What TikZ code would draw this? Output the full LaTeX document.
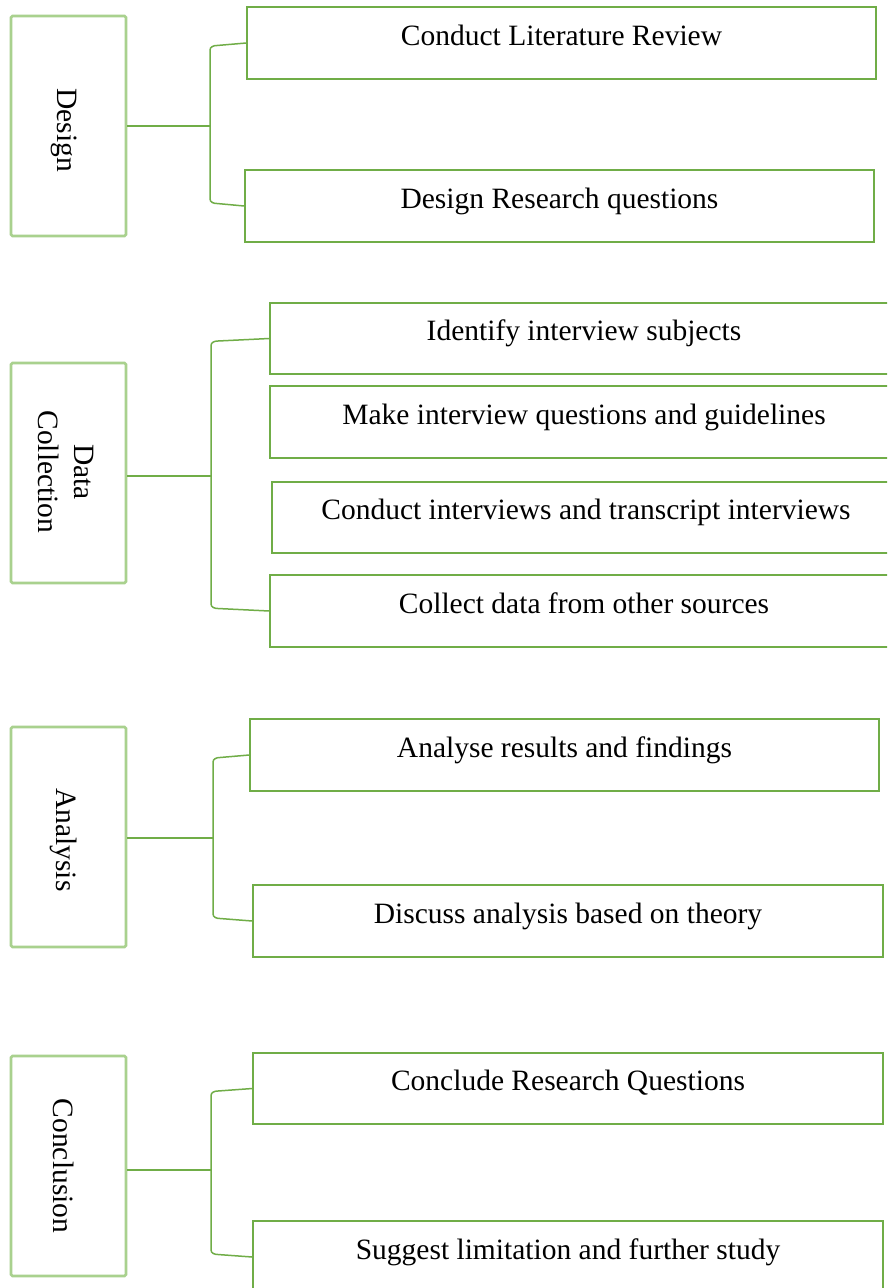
\documentclass[tikz,border=0pt]{standalone}
\usepackage{fontspec}
\setmainfont{Liberation Serif}
\usetikzlibrary{calc}
\definecolor{phaseline}{HTML}{A9D18E}
\definecolor{taskline}{HTML}{70AD47}
\tikzset{
  phase/.style={draw=phaseline, line width=2.6pt, rounded corners=1.5pt,
    minimum width=115pt, minimum height=220pt, inner sep=0pt},
  phasetext/.style={rotate=-90, align=center, font=\fontsize{29.5}{36}\selectfont},
  task/.style={draw=taskline, line width=1.6pt, minimum height=72pt, inner sep=0pt,
    font=\fontsize{29.5}{36}\selectfont, text height=20pt, text depth=16pt},
  conn/.style={draw=taskline, line width=1.5pt}
}
\begin{document}
\begin{tikzpicture}[x=1pt,y=-1pt]
\useasboundingbox (0,0) rectangle (887,1288);
\clip (0,0) rectangle (887,1288);
\fill[white] (0,0) rectangle (887,1288);

% ---- Design ----
\node[phase] (design) at (68.5,126) {};
\node[phasetext] (designt) at (64,130) {Design};
\node[task, minimum width=629pt] (lit) at (561.5,43) {Conduct Literature Review};
\node[task, minimum width=629pt] (rq) at (559.5,206) {Design Research questions};
\coordinate (b1) at (210,126);
\draw[conn] (design.east) -- (b1);
\draw[conn] (lit.west) -- ($(b1 |- lit.west)+(7,2.5)$) to[out=180,in=90] ($(b1 |- lit.west)+(0,7)$)
  -- ($(b1 |- rq.west)+(0,-7)$) to[out=-90,in=180] ($(b1 |- rq.west)+(7,-2.5)$) -- (rq.west);

% ---- Data Collection ----
\node[phase] (data) at (68.5,473) {};
\node[phasetext] (datat) at (66,472) {Data\\Collection};
\node[task, minimum width=628pt, minimum height=71pt] (subj) at (584,338.5) {Identify interview subjects};
\node[task, minimum width=628pt] (make) at (584,422) {Make interview questions and guidelines};
\node[task, minimum width=628pt, minimum height=71pt] (intv) at (586,517.5) {Conduct interviews and transcript interviews};
\node[task, minimum width=628pt] (coll) at (584,611) {Collect data from other sources};
\coordinate (b2) at (211,476);
\draw[conn] (data.east |- b2) -- (b2);
\draw[conn] (subj.west) -- ($(b2 |- subj.west)+(7,2.5)$) to[out=180,in=90] ($(b2 |- subj.west)+(0,7)$)
  -- ($(b2 |- coll.west)+(0,-7)$) to[out=-90,in=180] ($(b2 |- coll.west)+(7,-2.5)$) -- (coll.west);

% ---- Analysis ----
\node[phase] (anal) at (68.5,837) {};
\node[phasetext] (analt) at (64,840) {Analysis};
\node[task, minimum width=629pt] (res) at (564.5,755) {Analyse results and findings};
\node[task, minimum width=630pt] (disc) at (568,921) {Discuss analysis based on theory};
\coordinate (b3) at (213,838);
\draw[conn] (anal.east |- b3) -- (b3);
\draw[conn] (res.west) -- ($(b3 |- res.west)+(7,2.5)$) to[out=180,in=90] ($(b3 |- res.west)+(0,7)$)
  -- ($(b3 |- disc.west)+(0,-7)$) to[out=-90,in=180] ($(b3 |- disc.west)+(7,-2.5)$) -- (disc.west);

% ---- Conclusion ----
\node[phase] (conc) at (68.5,1166) {};
\node[phasetext] (conct) at (64,1166) {Conclusion};
\node[task, minimum width=630pt, minimum height=71pt] (crq) at (568,1088.5) {Conclude Research Questions};
\node[task, minimum width=630pt] (sugg) at (568,1257) {Suggest limitation and further study};
\coordinate (b4) at (211,1170);
\draw[conn] (conc.east |- b4) -- (b4);
\draw[conn] (crq.west) -- ($(b4 |- crq.west)+(7,2.5)$) to[out=180,in=90] ($(b4 |- crq.west)+(0,7)$)
  -- ($(b4 |- sugg.west)+(0,-7)$) to[out=-90,in=180] ($(b4 |- sugg.west)+(7,-2.5)$) -- (sugg.west);
\end{tikzpicture}
\end{document}
